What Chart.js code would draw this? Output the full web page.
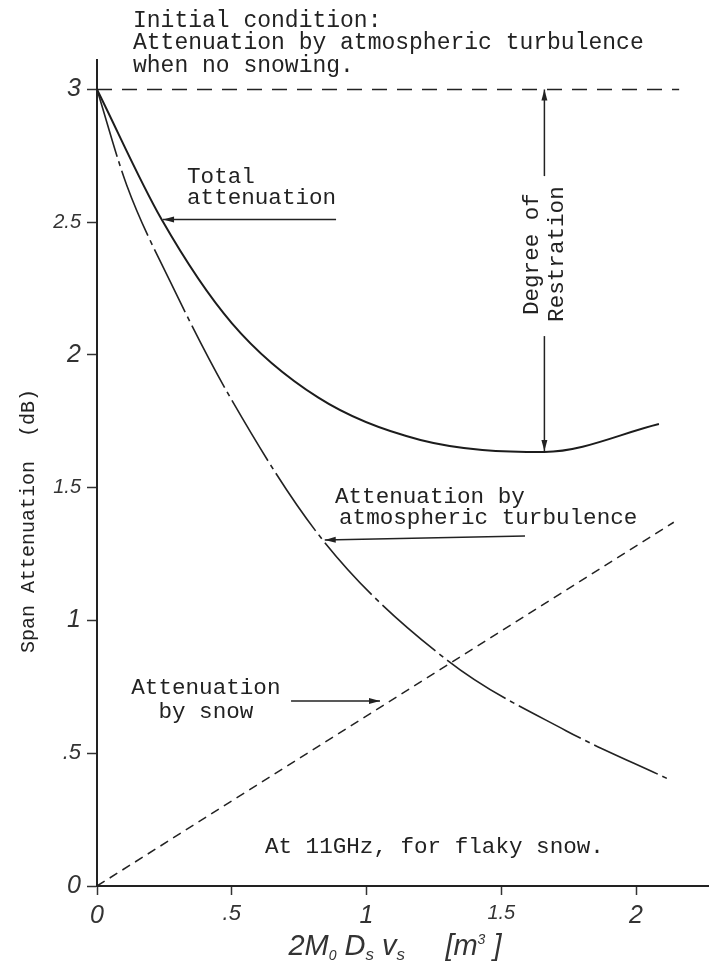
<!DOCTYPE html>
<html>
<head>
<meta charset="utf-8">
<style>
  html, body { margin: 0; padding: 0; background: #fff; }
  #wrap { width: 710px; height: 966px; position: relative; }
</style>
</head>
<body>
<div id="wrap"><canvas id="chart"></canvas></div>
<script src="https://cdn.jsdelivr.net/npm/chart.js@4.4.1/dist/chart.umd.min.js"></script>
<script>
// values
const xTicks = [0, 0.5, 1, 1.5, 2];
const xTickLabels = ['0', '.5', '1', '1.5', '2'];
const yTicks = [0, 0.5, 1, 1.5, 2, 2.5, 3];
const yTickLabels = ['0', '.5', '1', '1.5', '2', '2.5', '3'];

const totalX = [0, 0.24, 0.50, 0.82, 1.20, 1.66, 2.085];
const totalY = [3.00, 2.51, 2.12, 1.84, 1.68, 1.635, 1.74];

const turbX = [0, 0.11, 0.27, 0.50, 0.84, 1.30, 1.74, 2.115];
const turbY = [3.00, 2.64, 2.28, 1.83, 1.30, 0.85, 0.585, 0.405];

const snowX = [0, 2.14];
const snowY = [0, 1.37];

const initialX = [0, 2.16];
const initialY = [3, 3];

const restorationAt = 1.66;

function pts(xs, ys) {
  return xs.map((x, i) => ({ x: x, y: ys[i] }));
}

const ink = '#222';
const mono = '"Liberation Mono", monospace';
const hand = '"Liberation Sans", sans-serif';

function arrow(ctx, x1, y1, x2, y2) {
  ctx.beginPath();
  ctx.moveTo(x1, y1);
  ctx.lineTo(x2, y2);
  ctx.stroke();
  const a = Math.atan2(y2 - y1, x2 - x1);
  const L = 11, W = 3;
  ctx.beginPath();
  ctx.moveTo(x2, y2);
  ctx.lineTo(x2 - L * Math.cos(a) + W * Math.sin(a), y2 - L * Math.sin(a) - W * Math.cos(a));
  ctx.lineTo(x2 - L * Math.cos(a) - W * Math.sin(a), y2 - L * Math.sin(a) + W * Math.cos(a));
  ctx.closePath();
  ctx.fill();
}

// text with sub/superscripts, centred on cx
function richText(ctx, parts, cx, cy) {
  let w = 0;
  parts.forEach(p => {
    ctx.font = 'italic ' + p.s + 'px ' + hand;
    p.w = ctx.measureText(p.t).width;
    w += p.w;
  });
  let x = cx - w / 2;
  ctx.textAlign = 'left';
  ctx.textBaseline = 'alphabetic';
  parts.forEach(p => {
    ctx.font = 'italic ' + p.s + 'px ' + hand;
    ctx.fillText(p.t, x, cy + (p.dy || 0));
    x += p.w;
  });
}

const notes = {
  id: 'notes',
  afterDraw(chart) {
    const ctx = chart.ctx;
    const xs = chart.scales.x, ys = chart.scales.y;
    const px = v => xs.getPixelForValue(v);
    const py = v => ys.getPixelForValue(v);
    ctx.save();
    ctx.fillStyle = ink;
    ctx.strokeStyle = ink;
    ctx.lineWidth = 1.5;
    ctx.textBaseline = 'middle';
    ctx.textAlign = 'left';

    // header
    ctx.font = '23px ' + mono;
    ctx.fillText('Initial condition:', 133, 21);
    ctx.fillText('Attenuation by atmospheric turbulence', 133, 43);
    ctx.fillText('when no snowing.', 133, 66);

    ctx.font = '22.6px ' + mono;
    // total attenuation
    ctx.fillText('Total', px(0.334), py(2.67));
    ctx.fillText('attenuation', px(0.334), py(2.59));
    arrow(ctx, px(0.887), py(2.51), px(0.245), py(2.51));

    // atmospheric turbulence
    ctx.fillText('Attenuation by', px(0.883), py(1.465));
    ctx.fillText('atmospheric turbulence', px(0.898), py(1.386));
    arrow(ctx, px(1.588), py(1.318), px(0.845), py(1.303));

    // snow
    ctx.textAlign = 'center';
    ctx.fillText('Attenuation', px(0.404), py(0.746));
    ctx.fillText('by snow', px(0.404), py(0.655));
    arrow(ctx, px(0.72), py(0.697), px(1.05), py(0.697));

    ctx.textAlign = 'left';
    ctx.fillText('At 11GHz, for flaky snow.', px(0.623), py(0.147));

    // degree of restoration arrow
    const ax = px(restorationAt);
    const midY = py(2.38);
    arrow(ctx, ax, midY - 78, ax, py(3));
    arrow(ctx, ax, midY + 82, ax, py(1.638));
    ctx.save();
    ctx.translate(ax, midY);
    ctx.rotate(-Math.PI / 2);
    ctx.textAlign = 'center';
    ctx.fillText('Degree of', 0, -12);
    ctx.fillText('Restration', 0, 13);
    ctx.restore();

    // y title
    ctx.save();
    ctx.translate(29, 521);
    ctx.rotate(-Math.PI / 2);
    ctx.textAlign = 'center';
    ctx.font = '20px ' + mono;
    ctx.fillText('Span Attenuation  (dB)', 0, 0);
    ctx.restore();

    // x title
    ctx.fillStyle = '#333';
    richText(ctx, [
      { t: '2M', s: 29 },
      { t: '0', s: 14, dy: 5 },
      { t: ' D', s: 29 },
      { t: 's', s: 17, dy: 5 },
      { t: ' v', s: 29 },
      { t: 's', s: 17, dy: 5 },
      { t: '     [m', s: 29 },
      { t: '3', s: 14, dy: -11 },
      { t: ' ]', s: 29 }
    ], 395, 955);

    ctx.restore();
  }
};

function tickFont(ctx) {
  const v = ctx.tick ? ctx.tick.value : 0;
  let size = 25;
  if (v === 1.5 || v === 2.5) size = 20;
  else if (v === 0.5) size = 22;
  return { family: hand, style: 'italic', size: size };
}

new Chart(document.getElementById('chart'), {
  type: 'scatter',
  data: {
    datasets: [
      {
        label: 'Total attenuation',
        data: pts(totalX, totalY),
        showLine: true,
        borderColor: '#1c1c1c',
        borderWidth: 2,
        cubicInterpolationMode: 'monotone',
        pointRadius: 0
      },
      {
        label: 'Attenuation by atmospheric turbulence',
        data: pts(turbX, turbY),
        showLine: true,
        borderColor: '#222',
        borderWidth: 1.6,
        borderDash: [70, 5, 5, 5],
        cubicInterpolationMode: 'monotone',
        pointRadius: 0
      },
      {
        label: 'Attenuation by snow',
        data: pts(snowX, snowY),
        showLine: true,
        borderColor: '#222',
        borderWidth: 1.5,
        borderDash: [9, 6],
        pointRadius: 0
      },
      {
        label: 'Initial condition',
        data: pts(initialX, initialY),
        showLine: true,
        borderColor: '#222',
        borderWidth: 1.5,
        borderDash: [15, 10],
        pointRadius: 0
      }
    ]
  },
  options: {
    responsive: true,
    maintainAspectRatio: false,
    animation: false,
    devicePixelRatio: 1,
    layout: { padding: { top: 60, right: 2, left: 0, bottom: 0 } },
    plugins: {
      legend: { display: false },
      tooltip: { enabled: false }
    },
    scales: {
      x: {
        type: 'linear',
        min: 0,
        max: 2.267,
        afterBuildTicks: s => { s.ticks = xTicks.map(v => ({ value: v })); },
        afterFit: s => { s.height = 80; },
        ticks: {
          color: '#333',
          padding: 6,
          font: tickFont,
          callback: (v, i) => xTickLabels[i]
        },
        grid: { display: true, drawOnChartArea: false, tickLength: 9, tickColor: '#333', tickWidth: 1.5 },
        border: { display: true, color: ink, width: 2 }
      },
      y: {
        min: 0,
        max: 3.111,
        afterBuildTicks: s => { s.ticks = yTicks.map(v => ({ value: v })); },
        afterFit: s => { s.width = 97; },
        ticks: {
          color: '#333',
          padding: 6,
          font: tickFont,
          callback: (v, i) => yTickLabels[i]
        },
        grid: { display: true, drawOnChartArea: false, tickLength: 10, tickColor: '#333', tickWidth: 1.5 },
        border: { display: true, color: ink, width: 2 }
      }
    }
  },
  plugins: [notes]
});
</script>
</body>
</html>
